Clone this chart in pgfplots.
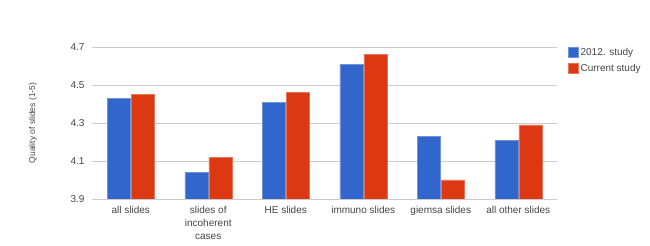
\documentclass[border=0pt]{standalone}
\usepackage{pgfplots}
\pgfplotsset{compat=1.18}
\usepackage{fontspec}
\setmainfont{Liberation Sans}
\definecolor{gblue}{HTML}{3366CC}
\definecolor{gred}{HTML}{DC3912}
\definecolor{gtext}{HTML}{444444}
\definecolor{ggrid}{HTML}{CCCCCC}
\begin{document}
\begin{tikzpicture}[x=1pt,y=1pt]
\useasboundingbox (0,0) rectangle (650,246);
\begin{axis}[
  at={(92pt,47pt)}, anchor=south west,
  scale only axis, width=465pt, height=152pt,
  xmin=-0.5, xmax=5.5, ymin=3.9, ymax=4.7,
  ytick={3.9,4.1,4.3,4.5,4.7},
  xtick={0,1,2,3,4,5},
  xticklabels={all slides, {slides of\\incoherent\\cases}, HE slides, immuno slides, giemsa slides, all other slides},
  x tick label style={align=center, font=\fontsize{10}{13}\selectfont, text=gtext, yshift=-4pt},
  y tick label style={font=\fontsize{10}{12}\selectfont, text=gtext, xshift=-4pt},
  /pgf/number format/assume math mode=true,
  yticklabel style={/pgf/number format/fixed, /pgf/number format/precision=1, /pgf/number format/fixed zerofill},
  axis line style={draw=none},
  major tick length=0pt,
  ymajorgrids, grid style={ggrid, line width=0.8pt},
  ylabel={Quality of slides (1-5)},
  ylabel style={font=\fontsize{8.5}{10}\selectfont, text=gtext, at={(axis description cs:0,0.5)}, anchor=center, yshift=59pt},
  ybar, bar width=23pt,
  legend style={at={(1,1)}, anchor=north west, xshift=11pt, yshift=1pt, draw=none, fill=none,
    font=\fontsize{10}{12}\selectfont, text=gtext, inner sep=0pt, row sep=3pt,
    legend cell align=left},
  legend image code/.code={\fill[#1] (0pt,-5pt) rectangle (10pt,5pt);},
]
\addplot[fill=gblue, draw=gblue!70!white, bar shift=-12pt] coordinates {(0,4.43) (1,4.04) (2,4.41) (3,4.61) (4,4.23) (5,4.21)};
\addplot[fill=gred, draw=gred!70!white, bar shift=12pt] coordinates {(0,4.45) (1,4.12) (2,4.46) (3,4.66) (4,4.00) (5,4.29)};
\legend{2012. study, Current study}
\end{axis}
\end{tikzpicture}
\end{document}
